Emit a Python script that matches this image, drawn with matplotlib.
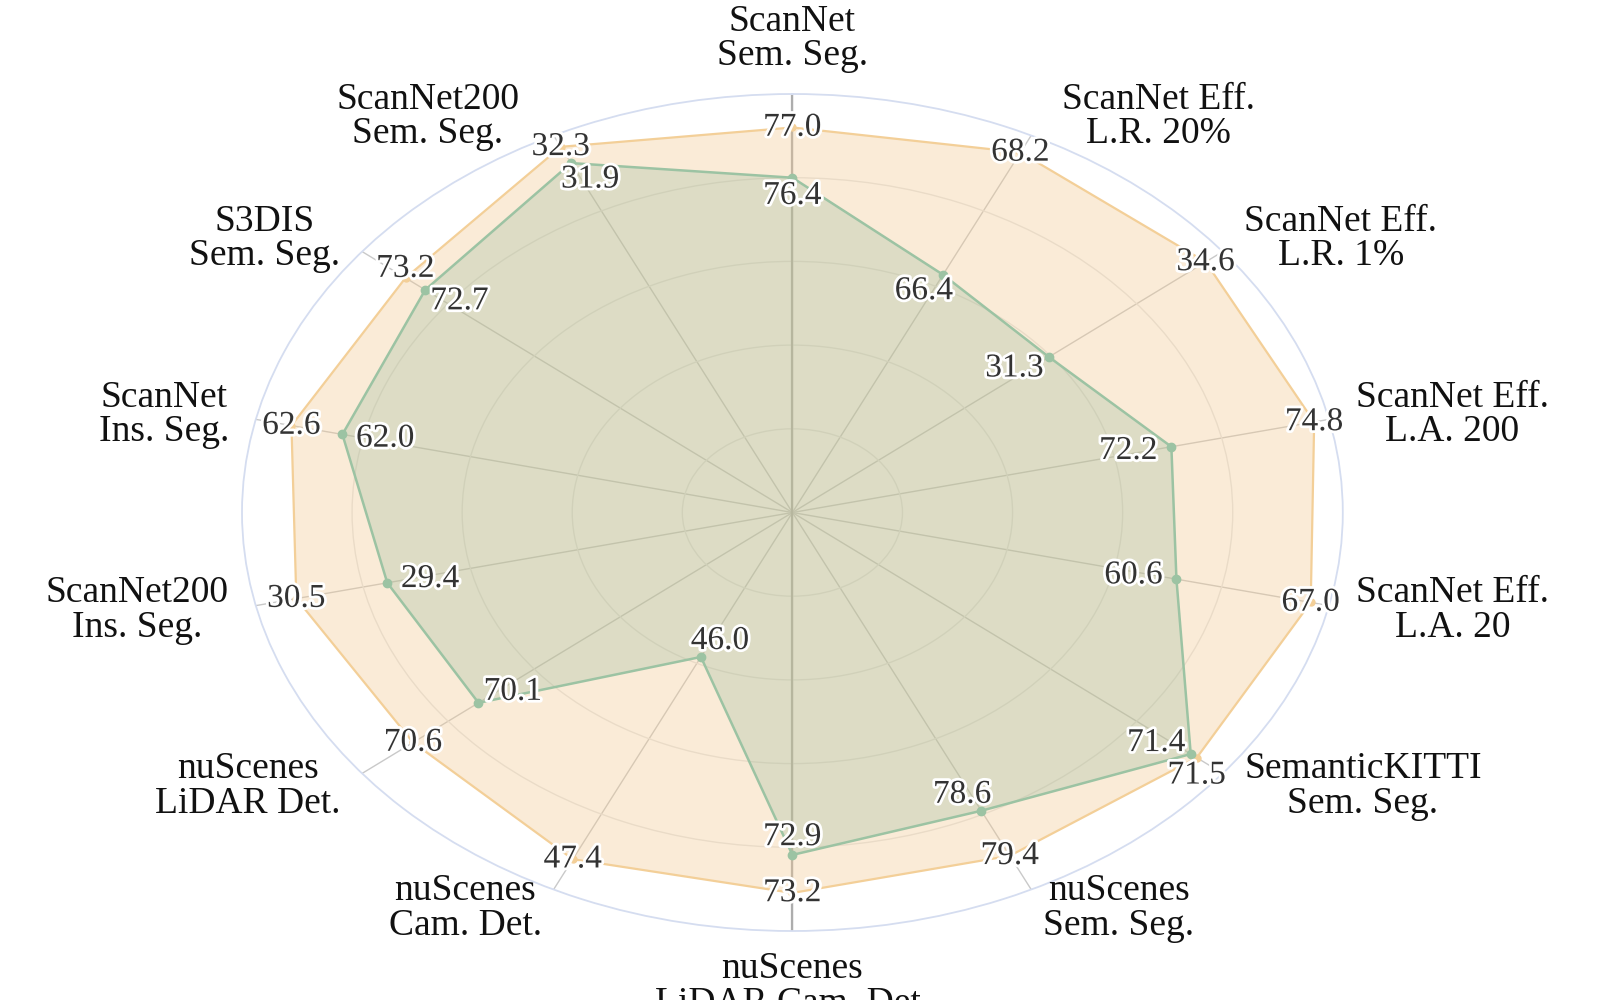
import numpy as np
import matplotlib
matplotlib.use('agg')
import matplotlib.pyplot as plt
import matplotlib.patheffects as pe

plt.rcParams['font.family'] = ['Liberation Serif', 'DejaVu Serif']

tasks = ['ScanNet\nSem. Seg.', 'ScanNet Eff.\nL.R. 20%', 'ScanNet Eff.\nL.R. 1%',
         'ScanNet Eff.\nL.A. 200', 'ScanNet Eff.\nL.A. 20', 'SemanticKITTI\nSem. Seg.',
         'nuScenes\nSem. Seg.', 'nuScenes\nLiDAR Cam. Det.', 'nuScenes\nCam. Det.',
         'nuScenes\nLiDAR Det.', 'ScanNet200\nIns. Seg.', 'ScanNet\nIns. Seg.',
         'S3DIS\nSem. Seg.', 'ScanNet200\nSem. Seg.']
best_vals = [77.0, 68.2, 34.6, 74.8, 67.0, 71.5, 79.4, 73.2, 47.4, 70.6, 30.5, 62.6, 73.2, 32.3]
base_vals = [76.4, 66.4, 31.3, 72.2, 60.6, 71.4, 78.6, 72.9, 46.0, 70.1, 29.4, 62.0, 72.7, 31.9]
# value range of each spoke (centre -> outer circle)
axis_lo = [72.4, 62.9, 25.9, 65.3, 42.3, 64.8, 73.3, 70.2, 45.0, 67.7, 24.5, 56.7, 63.4, 23.3]
axis_hi = [77.4, 68.45, 34.96, 75.07, 67.87, 71.93, 80.0, 73.5, 47.61, 70.99, 30.99, 63.02, 74.3, 32.58]

n = len(tasks)
theta = np.arange(n) * 2 * np.pi / n
lo, hi = np.array(axis_lo), np.array(axis_hi)
r_best = (np.array(best_vals) - lo) / (hi - lo)
r_base = (np.array(base_vals) - lo) / (hi - lo)

fig = plt.figure(figsize=(16, 10), dpi=100)
ax = fig.add_axes([0.15125, 0.069, 0.688, 0.837], projection='polar')
ax.set_aspect('auto')  # stretched (elliptic) like the reference
ax.set_theta_zero_location('N')
ax.set_theta_direction(-1)
ax.set_ylim(0, 1)
ax.set_xticks(theta)
ax.set_xticklabels([])
ax.set_yticks([0.2, 0.4, 0.6, 0.8])
ax.set_yticklabels([])
ax.tick_params(length=0)
ax.xaxis.grid(True, color='#C9C9C9', lw=1)
ax.yaxis.grid(True, color='#E6E6E6', lw=1)
ax.set_axisbelow(True)
ax.spines['polar'].set_color('#D5DDF0')
ax.spines['polar'].set_linewidth(1.3)

# vertical spoke is darker
ax.plot([0, 0], [0, 1], color='#ADADAD', lw=1.6, zorder=1)
ax.plot([np.pi, np.pi], [0, 1], color='#ADADAD', lw=1.6, zorder=1)

tt = np.append(theta, theta[0])
rb = np.append(r_best, r_best[0])
rg = np.append(r_base, r_base[0])
ax.fill(tt, rb, color='#F2C88F', alpha=0.35, lw=0, zorder=2)
ax.plot(tt, rb, color='#F3CF98', lw=1.6, zorder=3)
ax.plot(theta, r_best, 'o', ms=5, color='#F3CF98', zorder=3)
ax.fill(tt, rg, color='#8FB696', alpha=0.27, lw=0, zorder=2.5)
ax.plot(tt, rg, color='#9CC3A3', lw=1.8, zorder=3.5)
ax.plot(theta, r_base, 'o', ms=6, color='#9CC3A3', zorder=3.5)

halo = [pe.withStroke(linewidth=4, foreground='white')]
best_txt, base_txt, cat_txt = [], [], []
for i in range(n):
    s, c = np.sin(theta[i]), np.cos(theta[i])
    tg = ax.annotate(f'{base_vals[i]:.1f}', xy=(theta[i], r_base[i]),
                     xytext=(-44 * s, -18 * c), textcoords='offset pixels',
                     ha='center', va='center', fontsize=24, color='#333333',
                     path_effects=halo, zorder=6)
    tb = ax.annotate(f'{best_vals[i]:.1f}', xy=(theta[i], r_best[i]),
                     xytext=(0, 0), textcoords='offset pixels',
                     ha='center', va='center', fontsize=24, color='#333333',
                     path_effects=halo, zorder=6)
    base_txt.append(tg)
    best_txt.append(tb)

    if abs(s) < 0.1:
        ha, va = 'center', ('bottom' if c > 0 else 'top')
    else:
        ha, va = ('left' if s > 0 else 'right'), 'center'
    tc = ax.annotate(tasks[i], xy=(theta[i], 1.05), xytext=(0, 0),
                     textcoords='offset pixels', ha=ha, va=va, ma='center',
                     fontsize=27, linespacing=1.0, color='#111111',
                     annotation_clip=False)
    cat_txt.append((tc, s))

# push the upper-value label off the lower-value label where they collide
fig.canvas.draw()
renderer = fig.canvas.get_renderer()
for tb, tg in zip(best_txt, base_txt):
    b1 = tb.get_window_extent(renderer)
    b2 = tg.get_window_extent(renderer)
    if b1.overlaps(b2):
        if b1.y0 + b1.y1 < b2.y0 + b2.y1:
            tb.xyann = (0, -(b1.y1 - b2.y0 + 2))
        else:
            tb.xyann = (0, b2.y1 - b1.y0 + 2)

# keep the category names clear of the value labels
fig.canvas.draw()
for tc, s in cat_txt:
    bc = tc.get_window_extent(renderer)
    for tv in best_txt + base_txt:
        bv = tv.get_window_extent(renderer)
        if bc.overlaps(bv) and abs(s) > 0.1:
            if s < 0:
                dx = -(bc.x1 - bv.x0 + 12)
            else:
                dx = bv.x1 - bc.x0 + 12
            tc.xyann = (tc.xyann[0] + dx, 0)
            bc = tc.get_window_extent(renderer)

fig.savefig('out.png', dpi=100, facecolor='white')
